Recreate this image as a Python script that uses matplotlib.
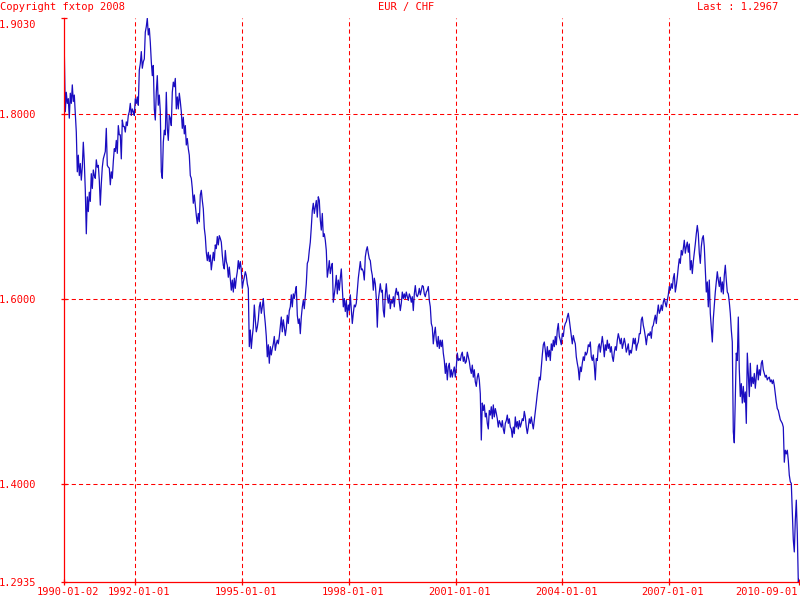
import pandas as pd
import matplotlib
matplotlib.use("Agg")
import matplotlib.pyplot as plt
import matplotlib.transforms as mtransforms

# EUR/CHF rates, one value per pixel column (~10 days)
rates_1990_95 = [
    1.867, 1.802, 1.823, 1.811, 1.816, 1.795, 1.822, 1.811, 1.831, 1.813,
    1.820, 1.800, 1.780, 1.737, 1.755, 1.733, 1.746, 1.728, 1.742, 1.769,
    1.748, 1.717, 1.670, 1.710, 1.694, 1.715, 1.705, 1.735, 1.719, 1.739,
    1.733, 1.730, 1.750, 1.742, 1.744, 1.728, 1.701, 1.724, 1.742, 1.751,
    1.755, 1.759, 1.784, 1.744, 1.742, 1.741, 1.723, 1.737, 1.730, 1.748,
    1.762, 1.759, 1.771, 1.757, 1.787, 1.777, 1.777, 1.751, 1.793, 1.786,
    1.786, 1.780, 1.791, 1.787, 1.798, 1.802, 1.811, 1.798, 1.805, 1.802,
    1.798, 1.816, 1.811, 1.818, 1.809, 1.847, 1.854, 1.867, 1.849, 1.856,
    1.859, 1.888, 1.894, 1.903, 1.885, 1.892, 1.877, 1.856, 1.841, 1.852,
    1.805, 1.793, 1.823, 1.841, 1.809, 1.820, 1.802, 1.737, 1.730, 1.769,
    1.782, 1.777, 1.823, 1.784, 1.771, 1.798, 1.795, 1.787, 1.823, 1.834,
    1.829, 1.838, 1.805, 1.818, 1.805, 1.822, 1.813, 1.802, 1.784, 1.796,
    1.778, 1.787, 1.766, 1.773, 1.762, 1.755, 1.733, 1.730, 1.719, 1.703,
    1.712, 1.701, 1.690, 1.681, 1.692, 1.683, 1.712, 1.717, 1.706, 1.697,
    1.676, 1.667, 1.650, 1.641, 1.650, 1.640, 1.647, 1.631, 1.640, 1.650,
    1.641, 1.658, 1.654, 1.667, 1.658, 1.668, 1.665, 1.661, 1.647, 1.636,
    1.632, 1.652, 1.640, 1.636, 1.623, 1.634, 1.622, 1.609, 1.620, 1.607,
    1.622, 1.611, 1.622, 1.629, 1.641, 1.632, 1.640, 1.631, 1.611, 1.618,
    1.623, 1.629, 1.625, 1.616, 1.611,
]
rates_95_01 = [
    1.548, 1.566, 1.546, 1.559, 1.569, 1.593, 1.577, 1.564, 1.569, 1.577,
    1.591, 1.596, 1.584, 1.591, 1.600, 1.584, 1.573, 1.559, 1.537, 1.550,
    1.530, 1.548, 1.539, 1.546, 1.551, 1.559, 1.544, 1.551, 1.555, 1.551,
    1.559, 1.569, 1.580, 1.564, 1.577, 1.569, 1.560, 1.568, 1.582, 1.573,
    1.587, 1.591, 1.604, 1.591, 1.605, 1.600, 1.607, 1.613, 1.582, 1.573,
    1.578, 1.562, 1.580, 1.591, 1.598, 1.589, 1.602, 1.616, 1.638, 1.641,
    1.652, 1.661, 1.677, 1.695, 1.703, 1.692, 1.699, 1.706, 1.688, 1.710,
    1.706, 1.685, 1.674, 1.692, 1.667, 1.670, 1.663, 1.652, 1.623, 1.631,
    1.641, 1.627, 1.634, 1.638, 1.596, 1.605, 1.613, 1.625, 1.605, 1.620,
    1.609, 1.622, 1.632, 1.611, 1.591, 1.600, 1.586, 1.598, 1.580, 1.593,
    1.587, 1.604, 1.589, 1.573, 1.584, 1.593, 1.591, 1.595, 1.609, 1.622,
    1.631, 1.640, 1.631, 1.632, 1.629, 1.620, 1.645, 1.652, 1.656, 1.649,
    1.643, 1.641, 1.631, 1.625, 1.609, 1.622, 1.616, 1.600, 1.569, 1.598,
    1.607, 1.616, 1.607, 1.609, 1.587, 1.580, 1.604, 1.616, 1.602, 1.595,
    1.604, 1.589, 1.598, 1.595, 1.602, 1.591, 1.605, 1.611, 1.604, 1.607,
    1.596, 1.587, 1.595, 1.607, 1.600, 1.605, 1.600, 1.607, 1.602, 1.598,
    1.605, 1.602, 1.596, 1.602, 1.587, 1.605, 1.614, 1.604, 1.602, 1.605,
    1.611, 1.604, 1.609, 1.614, 1.613, 1.605, 1.602, 1.607, 1.609, 1.613,
    1.598, 1.591, 1.573, 1.569, 1.551, 1.562, 1.569, 1.555, 1.548, 1.559,
    1.546, 1.555, 1.548, 1.555, 1.541, 1.533, 1.519, 1.530, 1.512, 1.526,
    1.530, 1.515, 1.523, 1.515, 1.521, 1.526, 1.515, 1.526, 1.541, 1.533,
]
rates_01_06 = [
    1.535, 1.533, 1.539, 1.542, 1.532, 1.537, 1.530, 1.532, 1.542, 1.537,
    1.532, 1.524, 1.519, 1.528, 1.515, 1.523, 1.510, 1.505, 1.515, 1.519,
    1.512, 1.497, 1.447, 1.487, 1.479, 1.485, 1.472, 1.476, 1.465, 1.459,
    1.479, 1.474, 1.483, 1.470, 1.485, 1.472, 1.481, 1.476, 1.470, 1.461,
    1.468, 1.465, 1.461, 1.468, 1.459, 1.454, 1.465, 1.468, 1.474, 1.465,
    1.470, 1.461, 1.459, 1.450, 1.461, 1.454, 1.472, 1.461, 1.467, 1.459,
    1.468, 1.461, 1.465, 1.470, 1.468, 1.478, 1.472, 1.461, 1.454, 1.461,
    1.470, 1.465, 1.472, 1.465, 1.459, 1.468, 1.476, 1.487, 1.497, 1.505,
    1.515, 1.512, 1.526, 1.539, 1.550, 1.553, 1.544, 1.533, 1.548, 1.537,
    1.544, 1.533, 1.551, 1.544, 1.555, 1.548, 1.559, 1.550, 1.566, 1.573,
    1.559, 1.555, 1.550, 1.562, 1.559, 1.569, 1.573, 1.575, 1.580, 1.584,
    1.577, 1.568, 1.559, 1.551, 1.560, 1.555, 1.551, 1.537, 1.530, 1.524,
    1.512, 1.526, 1.521, 1.530, 1.537, 1.533, 1.542, 1.539, 1.542, 1.550,
    1.548, 1.553, 1.537, 1.533, 1.539, 1.528, 1.512, 1.535, 1.533, 1.548,
    1.551, 1.542, 1.551, 1.559, 1.550, 1.537, 1.550, 1.544, 1.555, 1.546,
    1.551, 1.542, 1.548, 1.537, 1.532, 1.542, 1.548, 1.544, 1.555, 1.562,
    1.557, 1.551, 1.557, 1.546, 1.551, 1.557, 1.551, 1.542, 1.546, 1.551,
    1.539, 1.544, 1.541, 1.548, 1.557, 1.551, 1.557, 1.544, 1.550, 1.553,
    1.562,
]
rates_06_10 = [
    1.562, 1.577, 1.580, 1.571, 1.566, 1.559, 1.550, 1.559, 1.562, 1.560,
    1.564, 1.557, 1.569, 1.571, 1.577, 1.582, 1.573, 1.584, 1.593, 1.584,
    1.587, 1.593, 1.587, 1.596, 1.600, 1.595, 1.591, 1.598, 1.604, 1.613,
    1.609, 1.616, 1.611, 1.622, 1.627, 1.607, 1.614, 1.623, 1.634, 1.643,
    1.638, 1.652, 1.647, 1.654, 1.663, 1.649, 1.656, 1.661, 1.650, 1.659,
    1.631, 1.641, 1.627, 1.640, 1.649, 1.659, 1.670, 1.679, 1.670, 1.649,
    1.638, 1.656, 1.665, 1.668, 1.656, 1.631, 1.607, 1.618, 1.591, 1.620,
    1.584, 1.569, 1.553, 1.578, 1.593, 1.607, 1.618, 1.629, 1.620, 1.613,
    1.623, 1.607, 1.618, 1.605, 1.625, 1.636, 1.620, 1.607, 1.605, 1.596,
    1.584, 1.566, 1.553,
    1.456, 1.444, 1.494, 1.541, 1.533, 1.580, 1.523, 1.494, 1.508, 1.487,
    1.505, 1.488, 1.499, 1.465, 1.541, 1.519, 1.494, 1.530, 1.505, 1.515,
    1.508, 1.519, 1.503, 1.515, 1.528, 1.512, 1.523, 1.517, 1.530, 1.533,
    1.523, 1.519, 1.515, 1.517, 1.512, 1.514, 1.515, 1.510, 1.512, 1.508,
    1.512, 1.506, 1.497, 1.488, 1.481, 1.479, 1.474, 1.469, 1.467, 1.465,
    1.461, 1.423, 1.436, 1.432, 1.436, 1.425, 1.409, 1.402,
]
rates_2010 = [1.400, 1.368, 1.339, 1.326, 1.360, 1.382, 1.346, 1.2935, 1.2967]

start_date = "1990-01-02"
end_date = "2010-09-01"
x_ticks = ["1990-01-02", "1992-01-01", "1995-01-01", "1998-01-01",
           "2001-01-01", "2004-01-01", "2007-01-01", "2010-09-01"]
y_ticks = [1.2935, 1.4, 1.6, 1.8, 1.9030]
title = "EUR / CHF"
last_value = 1.2967

rates = rates_1990_95 + rates_95_01 + rates_01_06 + rates_06_10 + rates_2010
dates = pd.date_range(start_date, end_date, periods=len(rates))

red = "#FF0000"
blue = "#1A0DC0"
plt.rcParams["font.family"] = ["DejaVu Sans Mono"]
plt.rcParams["font.size"] = 7.5
plt.rcParams["lines.scale_dashes"] = False

fig = plt.figure(figsize=(8, 6), dpi=100)
ax = fig.add_axes([64.3 / 800, 18 / 600, 735 / 800, 563.7 / 600])

ax.plot(dates, rates, color=blue, lw=0.9)

# dashed red grid on the inner ticks only
tick_dates = pd.to_datetime(x_ticks)
for d in tick_dates[1:-1]:
    ax.axvline(d, color=red, lw=0.75, dashes=(3, 2.2), zorder=0)
for v in y_ticks[1:-1]:
    ax.axhline(v, color=red, lw=0.75, dashes=(3, 2.2), zorder=0)

ax.set_xlim(dates[0], dates[-1])
ax.set_ylim(y_ticks[0], y_ticks[-1])
ax.set_xticks(tick_dates)
ax.set_xticklabels(x_ticks)
ax.set_yticks(y_ticks)
ax.set_yticklabels(["%.4f" % v for v in y_ticks])

for side in ["top", "right"]:
    ax.spines[side].set_visible(False)
for side in ["left", "bottom"]:
    ax.spines[side].set_color(red)
    ax.spines[side].set_linewidth(0.9)

ax.tick_params(axis="both", colors=red, labelcolor=red, width=0.9)
ax.tick_params(axis="y", direction="inout", length=4.5, pad=18)
ax.tick_params(axis="x", direction="inout", length=4.5, pad=1.5)

# small label nudges like the original image
xlabels = ax.get_xticklabels()
for lab in xlabels[:-1]:
    lab.set_transform(lab.get_transform() +
                      mtransforms.ScaledTranslation(0.04, 0, fig.dpi_scale_trans))
xlabels[-1].set_ha("right")
xlabels[-1].set_transform(xlabels[-1].get_transform() +
                          mtransforms.ScaledTranslation(-0.02, 0, fig.dpi_scale_trans))
ylabels = ax.get_yticklabels()
ylabels[-1].set_transform(ylabels[-1].get_transform() +
                          mtransforms.ScaledTranslation(0, -0.06, fig.dpi_scale_trans))

fig.text(0.0, 1 - 7 / 600, "Copyright fxtop 2008", color=red, ha="left", va="center")
fig.text(406 / 800, 1 - 7 / 600, title, color=red, ha="center", va="center")
fig.text(778 / 800, 1 - 7 / 600, "Last : %.4f" % last_value, color=red,
         ha="right", va="center")

fig.savefig("out.png", dpi=100, facecolor="white")
